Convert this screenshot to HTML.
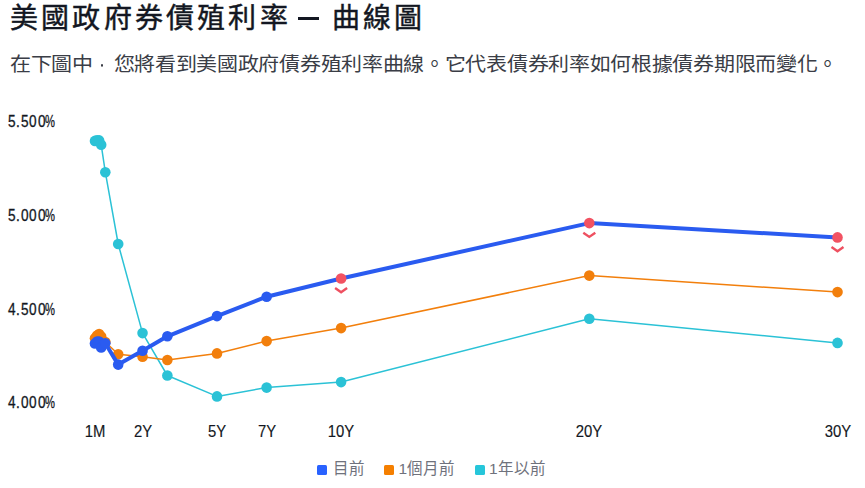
<!DOCTYPE html>
<html lang="zh-TW"><head><meta charset="utf-8"><style>
html,body{margin:0;padding:0;background:#fff;width:865px;height:488px;overflow:hidden}
body{font-family:"Liberation Sans",sans-serif;position:relative}
.t{position:absolute;white-space:nowrap}
#title{left:10px;top:2px;font-size:28px;letter-spacing:3.2px;-webkit-text-stroke:0.45px #131722;color:#131722;line-height:34px}
#title2{left:331.6px;top:2px;font-size:28px;letter-spacing:3.2px;-webkit-text-stroke:0.45px #131722;color:#131722;line-height:34px}
#dash{position:absolute;left:298px;top:16.5px;width:21px;height:3.2px;background:#131722}
#sub{left:10px;top:53px;font-size:21px;letter-spacing:-0.3px;color:#3a3d46;line-height:26px;transform:scaleY(0.92);transform-origin:0 0}
.yl{position:absolute;left:8px;font-size:16px;color:#131722;-webkit-text-stroke:0.3px #131722;line-height:18px;height:18px;transform:scaleX(0.85);transform-origin:0 0}
.pc{transform:scaleX(0.7)!important}
.xl{position:absolute;top:422px;font-size:16.5px;color:#131722;-webkit-text-stroke:0.15px #131722;line-height:18px;width:60px;text-align:center;transform:scaleX(0.9)}
.lg{position:absolute;top:459px;font-size:15.5px;color:#6f727c;line-height:20px}
.sq{position:absolute;top:464.6px;width:10px;height:10px;border-radius:1.5px}
svg{position:absolute;left:0;top:0}
.cm{display:inline-block;width:20.7px;height:10px;position:relative}
.cm i{position:absolute;left:7.7px;top:2.1px;width:2.6px;height:3px;border-radius:50%;background:#3a3d46}
</style></head><body>
<div class="t" id="title">美國政府券債殖利率</div><div id="dash"></div><div class="t" id="title2">曲線圖</div>
<div class="t" id="sub">在下圖中<span class="cm"><i></i></span>您將看到美國政府債券殖利率曲線。它代表債券利率如何根據債券期限而變化。</div>
<div class="yl" style="top:113px;left:8.2px">5</div><div class="yl" style="top:113px;left:16.2px">.</div><div class="yl" style="top:113px;left:21.0px">5</div><div class="yl" style="top:113px;left:29.2px">0</div><div class="yl" style="top:113px;left:37.9px">0</div><div class="yl pc" style="top:113px;left:45.3px">%</div>
<div class="yl" style="top:207px;left:8.2px">5</div><div class="yl" style="top:207px;left:16.2px">.</div><div class="yl" style="top:207px;left:21.0px">0</div><div class="yl" style="top:207px;left:29.2px">0</div><div class="yl" style="top:207px;left:37.9px">0</div><div class="yl pc" style="top:207px;left:45.3px">%</div>
<div class="yl" style="top:300.5px;left:8.2px">4</div><div class="yl" style="top:300.5px;left:16.2px">.</div><div class="yl" style="top:300.5px;left:21.0px">5</div><div class="yl" style="top:300.5px;left:29.2px">0</div><div class="yl" style="top:300.5px;left:37.9px">0</div><div class="yl pc" style="top:300.5px;left:45.3px">%</div>
<div class="yl" style="top:394px;left:8.2px">4</div><div class="yl" style="top:394px;left:16.2px">.</div><div class="yl" style="top:394px;left:21.0px">0</div><div class="yl" style="top:394px;left:29.2px">0</div><div class="yl" style="top:394px;left:37.9px">0</div><div class="yl pc" style="top:394px;left:45.3px">%</div>
<div class="xl" style="left:65.0px">1M</div>
<div class="xl" style="left:112.5px">2Y</div>
<div class="xl" style="left:187.0px">5Y</div>
<div class="xl" style="left:236.6px">7Y</div>
<div class="xl" style="left:311.1px">10Y</div>
<div class="xl" style="left:559.3px">20Y</div>
<div class="xl" style="left:807.5px">30Y</div>
<svg width="865" height="488" viewBox="0 0 865 488">
<polyline points="94.97,140.90 97.04,140.40 99.11,140.40 101.17,144.70 105.31,172.20 118.20,244.00 142.54,333.10 167.36,375.50 217.00,396.40 266.64,387.60 341.10,382.10 589.30,318.70 837.50,342.90" fill="none" stroke="#2BC2D6" stroke-width="1.5" stroke-linejoin="round" stroke-linecap="round"/>
<circle cx="94.97" cy="140.90" r="5.3" fill="#2BC2D6"/>
<circle cx="97.04" cy="140.40" r="5.3" fill="#2BC2D6"/>
<circle cx="99.11" cy="140.40" r="5.3" fill="#2BC2D6"/>
<circle cx="101.17" cy="144.70" r="5.3" fill="#2BC2D6"/>
<circle cx="105.31" cy="172.20" r="5.3" fill="#2BC2D6"/>
<circle cx="118.20" cy="244.00" r="5.3" fill="#2BC2D6"/>
<circle cx="142.54" cy="333.10" r="5.3" fill="#2BC2D6"/>
<circle cx="167.36" cy="375.50" r="5.3" fill="#2BC2D6"/>
<circle cx="217.00" cy="396.40" r="5.3" fill="#2BC2D6"/>
<circle cx="266.64" cy="387.60" r="5.3" fill="#2BC2D6"/>
<circle cx="341.10" cy="382.10" r="5.3" fill="#2BC2D6"/>
<circle cx="589.30" cy="318.70" r="5.3" fill="#2BC2D6"/>
<circle cx="837.50" cy="342.90" r="5.3" fill="#2BC2D6"/>
<polyline points="94.97,338.30 97.04,335.50 99.11,334.10 101.17,336.50 105.31,342.00 118.20,354.30 142.54,356.80 167.36,360.00 217.00,353.40 266.64,341.10 341.10,328.10 589.30,275.60 837.50,292.10" fill="none" stroke="#F27F0C" stroke-width="1.5" stroke-linejoin="round" stroke-linecap="round"/>
<circle cx="94.97" cy="338.30" r="5.3" fill="#F27F0C"/>
<circle cx="97.04" cy="335.50" r="5.3" fill="#F27F0C"/>
<circle cx="99.11" cy="334.10" r="5.3" fill="#F27F0C"/>
<circle cx="101.17" cy="336.50" r="5.3" fill="#F27F0C"/>
<circle cx="105.31" cy="342.00" r="5.3" fill="#F27F0C"/>
<circle cx="118.20" cy="354.30" r="5.3" fill="#F27F0C"/>
<circle cx="142.54" cy="356.80" r="5.3" fill="#F27F0C"/>
<circle cx="167.36" cy="360.00" r="5.3" fill="#F27F0C"/>
<circle cx="217.00" cy="353.40" r="5.3" fill="#F27F0C"/>
<circle cx="266.64" cy="341.10" r="5.3" fill="#F27F0C"/>
<circle cx="341.10" cy="328.10" r="5.3" fill="#F27F0C"/>
<circle cx="589.30" cy="275.60" r="5.3" fill="#F27F0C"/>
<circle cx="837.50" cy="292.10" r="5.3" fill="#F27F0C"/>
<polyline points="94.97,343.50 97.04,341.50 99.11,341.50 101.17,347.40 105.31,343.20 118.20,364.60 142.54,350.70 167.36,336.30 217.00,316.10 266.64,296.70 341.10,278.50 589.30,223.10 837.50,237.40" fill="none" stroke="#2A5BF0" stroke-width="4.0" stroke-linejoin="round" stroke-linecap="round"/>
<circle cx="94.97" cy="343.50" r="5.3" fill="#2A5BF0"/>
<circle cx="97.04" cy="341.50" r="5.3" fill="#2A5BF0"/>
<circle cx="99.11" cy="341.50" r="5.3" fill="#2A5BF0"/>
<circle cx="101.17" cy="347.40" r="5.3" fill="#2A5BF0"/>
<circle cx="105.31" cy="343.20" r="5.3" fill="#2A5BF0"/>
<circle cx="118.20" cy="364.60" r="5.3" fill="#2A5BF0"/>
<circle cx="142.54" cy="350.70" r="5.3" fill="#2A5BF0"/>
<circle cx="167.36" cy="336.30" r="5.3" fill="#2A5BF0"/>
<circle cx="217.00" cy="316.10" r="5.3" fill="#2A5BF0"/>
<circle cx="266.64" cy="296.70" r="5.3" fill="#2A5BF0"/>
<circle cx="341.10" cy="278.50" r="5.3" fill="#F25262"/>
<circle cx="589.30" cy="223.10" r="5.3" fill="#F25262"/>
<circle cx="837.50" cy="237.40" r="5.3" fill="#F25262"/>
<polyline points="335.10,288.10 341.10,292.30 347.10,288.10" fill="none" stroke="#EE5060" stroke-width="2.4"/>
<polyline points="583.30,232.70 589.30,236.90 595.30,232.70" fill="none" stroke="#EE5060" stroke-width="2.4"/>
<polyline points="831.50,247.00 837.50,251.20 843.50,247.00" fill="none" stroke="#EE5060" stroke-width="2.4"/>
</svg>
<div class="sq" style="left:317px;background:#2962FF"></div><div class="lg" style="left:332.5px">目前</div>
<div class="sq" style="left:384px;background:#F57F00"></div><div class="lg" style="left:398.5px">1個月前</div>
<div class="sq" style="left:475px;background:#26C6DA"></div><div class="lg" style="left:489px">1年以前</div>
</body></html>
